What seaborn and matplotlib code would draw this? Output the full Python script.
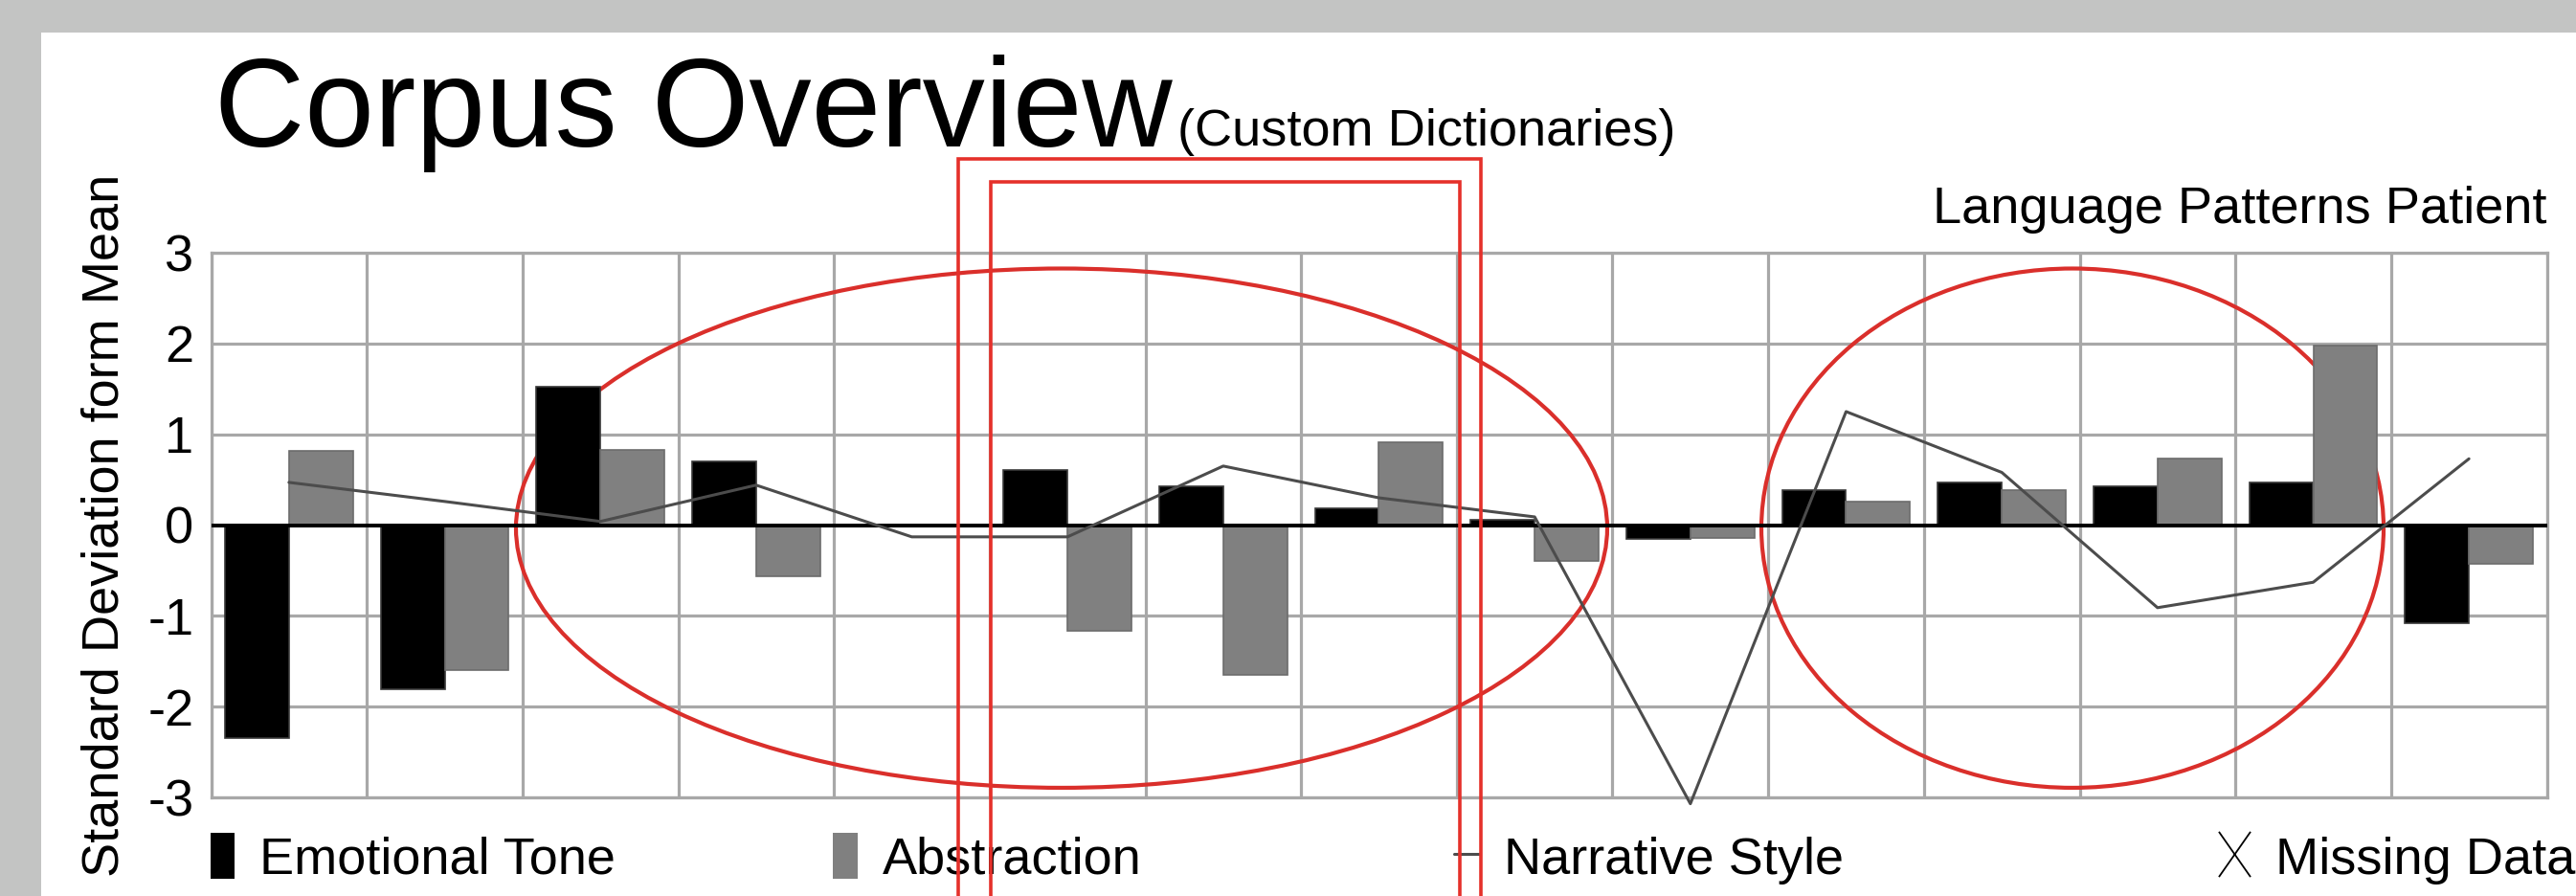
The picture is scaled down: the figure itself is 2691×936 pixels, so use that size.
import numpy as np
import pandas as pd
import seaborn as sns
import matplotlib.pyplot as plt
from matplotlib.patches import Ellipse, Rectangle, Patch
from matplotlib.lines import Line2D
from matplotlib.path import Path

# values (standard deviations from the mean), 15 segments
segments = [str(i) for i in range(1, 16)]
emotional_tone = [-2.35, -1.81, 1.52, 0.70, np.nan, 0.61, 0.43, 0.18, 0.06, -0.15,
                  0.39, 0.47, 0.43, 0.47, -1.08]
abstraction = [0.82, -1.60, 0.83, -0.56, np.nan, -1.17, -1.65, 0.91, -0.40, -0.14,
               0.26, 0.39, 0.73, 1.98, -0.43]
narrative_style = [0.47, 0.26, 0.04, 0.44, -0.13, -0.13, 0.65, 0.30, 0.09, -3.07,
                   1.25, 0.58, -0.91, -0.63, 0.73]
measures = ["Emotional Tone", "Abstraction"]
yticks = [-3, -2, -1, 0, 1, 2, 3]

BLACK = "#000000"
GRAY = "#808080"
LINE = "#4c4c4c"
GRID = "#a8a8a8"
RED = "#da2f2b"
FS = 39

sns.set_style("white")
plt.rcParams["font.family"] = ["Liberation Sans", "DejaVu Sans"]
plt.rcParams["axes.unicode_minus"] = False
plt.rcParams["text.color"] = "black"
plt.rcParams["axes.labelcolor"] = "black"
plt.rcParams["ytick.color"] = "black"

W, H = 2691, 936
fig = plt.figure(figsize=(W / 100, H / 100), dpi=100, facecolor="#c3c4c3")
fig.add_artist(Rectangle((43 / W, 0), 1, 1 - 34 / H, transform=fig.transFigure,
                         facecolor="white", edgecolor="none", zorder=-10))

ax = fig.add_axes([220.5 / W, 1 - 833 / H, 2440 / W, 569 / H])

df = pd.DataFrame({
    "segment": segments * 2,
    "measure": [measures[0]] * len(segments) + [measures[1]] * len(segments),
    "value": emotional_tone + abstraction,
})
sns.barplot(data=df, x="segment", y="value", hue="measure", hue_order=measures,
            palette=[BLACK, GRAY], width=0.82, saturation=1, errorbar=None,
            legend=False, ax=ax, zorder=3)
for p in ax.patches:
    dark = p.get_facecolor()[0] < 0.1
    p.set_edgecolor("#383838" if dark else "#6c6c6c")
    p.set_linewidth(1.2)

sns.lineplot(x=np.arange(len(segments)), y=narrative_style, color=LINE,
             linewidth=2.2, ax=ax, zorder=4, clip_on=False)
ax.axhline(0, color="black", linewidth=2.8, zorder=3.5)

# red hand-drawn style highlights
ax.add_patch(Ellipse((4.962, -0.034), 7.008, 5.72, fill=False, edgecolor=RED,
                     linewidth=3.0, zorder=2))
ax.add_patch(Ellipse((11.454, -0.034), 3.996, 5.72, fill=False, edgecolor=RED,
                     linewidth=3.0, zorder=2))

ax.set_axisbelow(True)
ax.grid(True, color=GRID, linewidth=2.3)
for s in ax.spines.values():
    s.set_color(GRID)
    s.set_linewidth(2.3)
ax.set_xticks(np.arange(-0.5, len(segments), 1.0))
ax.set_xlim(-0.5, len(segments) - 0.5)
ax.set_ylim(-3, 3)
ax.set_yticks(yticks)
ax.tick_params(axis="x", length=0, labelbottom=False)
ax.tick_params(axis="y", length=0, pad=13, labelsize=FS, labelcolor="black")
ax.set_xlabel("")
ax.set_ylabel("Standard Deviation form Mean", fontsize=FS, labelpad=14)
ax.set_title("Language Patterns Patient", loc="right", fontsize=FS, pad=22)

title = fig.text(224 / W, 1 - 153 / H, "Corpus Overview", fontsize=94,
                 va="baseline", ha="left")
fig.canvas.draw()
tb = title.get_window_extent()
fig.text(tb.x1 / W + 0.002, 1 - 152 / H, "(Custom Dictionaries)", fontsize=FS,
         va="baseline", ha="left")

# legend entries, spaced like the original
x_mark = Path([(-0.7, -1), (0.7, 1), (-0.7, 1), (0.7, -1)],
              [Path.MOVETO, Path.LINETO, Path.MOVETO, Path.LINETO])
entries = [
    (Patch(facecolor=BLACK, edgecolor="none"), "Emotional Tone", 220, 0.46),
    (Patch(facecolor=GRAY, edgecolor="none"), "Abstraction", 870, 0.48),
    (Line2D([], [], color=LINE, linewidth=2.2), "Narrative Style", 1519, 0.48),
    (Line2D([], [], color="black", linestyle="none", marker=x_mark,
            markersize=34, markeredgewidth=1.3), "Missing Data", 2317, 0.63),
]
for handle, label, xpx, hl in entries:
    fig.legend(handles=[handle], labels=[label], loc="center left",
               bbox_to_anchor=(xpx / W, 1 - 897 / H), frameon=False, fontsize=FS,
               handlelength=hl, handleheight=0.96, handletextpad=0.48,
               borderpad=0, borderaxespad=0, numpoints=1)

# red brackets over the middle section
for x0, x1, top in [(1001, 1547, 165.7), (1035, 1525.5, 190)]:
    fig.add_artist(Rectangle((x0 / W, -0.1), (x1 - x0) / W, 1 - top / H + 0.1,
                             transform=fig.transFigure, fill=False,
                             edgecolor="#e5302a", linewidth=2.6, zorder=20))

fig.savefig("out.png", dpi=100, facecolor=fig.get_facecolor())
